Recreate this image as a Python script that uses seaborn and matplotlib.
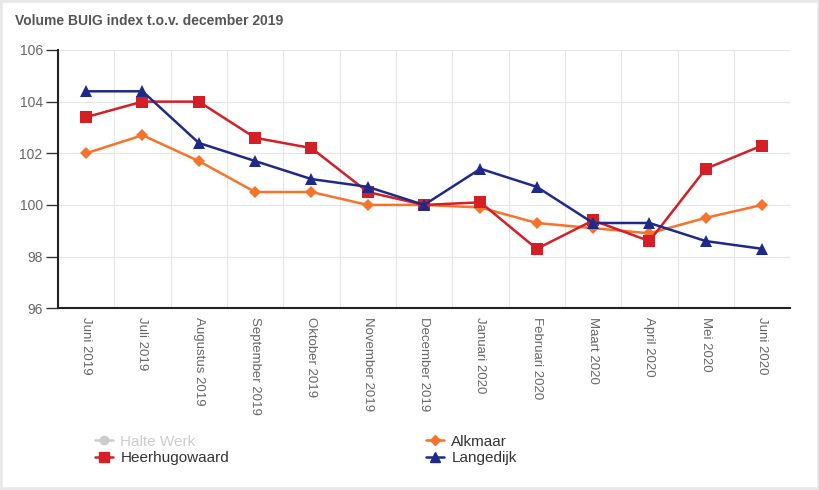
import numpy as np
import pandas as pd
import matplotlib
matplotlib.use("Agg")
import matplotlib.pyplot as plt
from matplotlib.lines import Line2D
from matplotlib.patches import Rectangle
import seaborn as sns

# ==========================
# data
# ==========================
months = ["Juni 2019", "Juli 2019", "Augustus 2019", "September 2019", "Oktober 2019",
          "November 2019", "December 2019", "Januari 2020", "Februari 2020",
          "Maart 2020", "April 2020", "Mei 2020", "Juni 2020"]
alkmaar = [102.0, 102.7, 101.7, 100.5, 100.5, 100.0, 100.0, 99.9, 99.3, 99.1, 98.9, 99.5, 100.0]
heerhugowaard = [103.4, 104.0, 104.0, 102.6, 102.2, 100.5, 100.0, 100.1, 98.3, 99.4, 98.6, 101.4, 102.3]
langedijk = [104.4, 104.4, 102.4, 101.7, 101.0, 100.7, 100.0, 101.4, 100.7, 99.3, 99.3, 98.6, 98.3]
y_ticks = [96, 98, 100, 102, 104, 106]

series_names = ["Alkmaar", "Heerhugowaard", "Langedijk"]
colors = {"Alkmaar": "#f7732a", "Heerhugowaard": "#d41f26", "Langedijk": "#1f2a88"}
markers = {"Alkmaar": "D", "Heerhugowaard": "s", "Langedijk": "^"}
msizes = {"Alkmaar": 6, "Heerhugowaard": 9, "Langedijk": 9}

df = pd.DataFrame({
    "maand": list(range(len(months))) * 3,
    "index": alkmaar + heerhugowaard + langedijk,
    "gemeente": sum([[n] * len(months) for n in series_names], []),
})

sns.set_theme(style="white")
plt.rcParams["font.family"] = ["Liberation Sans", "DejaVu Sans"]

fig = plt.figure(figsize=(8.2, 4.9), dpi=100)
fig.patches.append(Rectangle((0, 0), 1, 1, transform=fig.transFigure, fill=False,
                             edgecolor="#e8e8e8", linewidth=4))
ax = fig.add_axes([0.0707, 0.371, 0.893, 0.527])

for name in series_names:
    sub = df[df["gemeente"] == name]
    sns.lineplot(data=sub, x="maand", y="index", ax=ax, color=colors[name],
                 marker=markers[name], markersize=msizes[name], markeredgewidth=0,
                 linewidth=1.8, legend=False)

ax.set_xlim(-0.5, len(months) - 0.5)
ax.set_ylim(96, 106)
ax.set_yticks(y_ticks)
ax.set_yticklabels([str(v) for v in y_ticks], color="#666666", fontsize=10)
ax.set_xticks(range(len(months)))
ax.set_xticklabels(months, rotation=270, color="#666666", fontsize=9.5, va="top")
ax.set_xticks(np.arange(-0.5, len(months), 1), minor=True)
ax.grid(False)
ax.grid(True, which="minor", axis="x", color="#e6e6e6", linewidth=0.8)
ax.grid(True, which="major", axis="y", color="#e6e6e6", linewidth=0.8)
ax.set_axisbelow(True)
ax.tick_params(axis="y", which="major", left=True, direction="out", length=9, width=1,
               color="#333333", pad=2)
ax.tick_params(axis="x", which="both", bottom=False, length=0, pad=6)
ax.set_xlabel("")
ax.set_ylabel("")
for s in ["top", "right"]:
    ax.spines[s].set_visible(False)
for s in ["left", "bottom"]:
    ax.spines[s].set_color("#222222")
    ax.spines[s].set_linewidth(1.5)

fig.text(0.018, 0.958, "Volume BUIG index t.o.v. december 2019", fontsize=10,
         fontweight="bold", color="#555555", va="center")

# legend (Halte Werk is hidden in the chart)
handles = [
    Line2D([], [], color="#cccccc", marker="o", markersize=6, linewidth=1.8),
    Line2D([], [], color=colors["Heerhugowaard"], marker="s", markersize=7, linewidth=1.8),
    Line2D([], [], color=colors["Alkmaar"], marker="D", markersize=5, linewidth=1.8),
    Line2D([], [], color=colors["Langedijk"], marker="^", markersize=7, linewidth=1.8),
]
labels = ["Halte Werk", "Heerhugowaard", "Alkmaar", "Langedijk"]
leg = fig.legend(handles, labels, ncol=2, loc="upper left", bbox_to_anchor=(0.116, 0.113),
                 frameon=False, fontsize=11, handlelength=1.2, handletextpad=0.45,
                 columnspacing=12.9, labelspacing=0.15, borderpad=0, borderaxespad=0)
for t, c in zip(leg.get_texts(), ["#cccccc", "#333333", "#333333", "#333333"]):
    t.set_color(c)

fig.savefig("out.png", dpi=100)
